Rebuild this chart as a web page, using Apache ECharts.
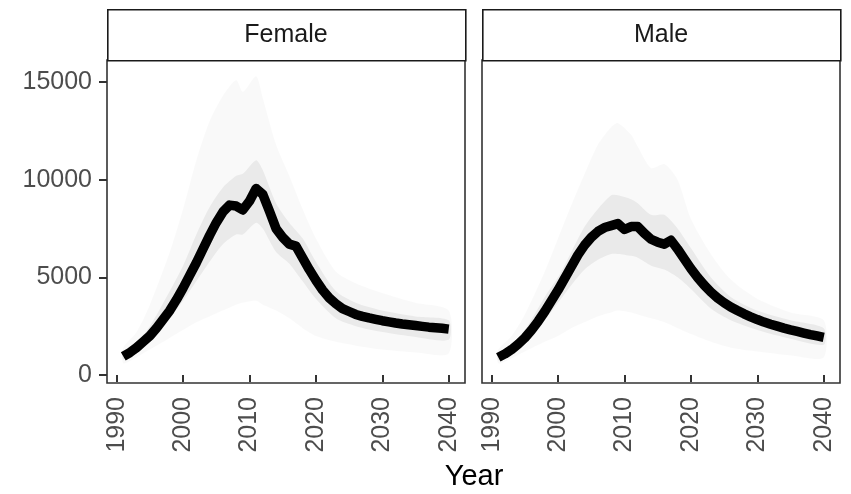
<!DOCTYPE html>
<html>
<head>
<meta charset="utf-8">
<script src="https://cdn.jsdelivr.net/npm/echarts@6/dist/echarts.min.js"></script>
<style>
html,body{margin:0;padding:0;background:#fff;}
#main{width:851px;height:494px;}
</style>
</head>
<body>
<div id="main"></div>
<script>
// years of the thick median line
var years = [];
for (var y = 1991; y <= 2040; y++) years.push(y);

// median line
var femaleMain = [950,1150,1400,1700,2000,2400,2850,3300,3850,4450,
                  5100,5750,6450,7150,7800,8350,8700,8650,8450,8900,
                  9550,9250,8400,7500,7050,6700,6600,6000,5400,4850,
                  4350,3950,3650,3400,3250,3100,3000,2920,2850,2780,
                  2720,2660,2610,2570,2530,2490,2450,2420,2390,2350];
var maleMain = [900,1080,1300,1580,1900,2300,2750,3250,3800,4350,
                4950,5550,6150,6650,7050,7350,7550,7650,7750,7450,
                7600,7600,7250,6950,6800,6700,6900,6450,5950,5450,
                5000,4600,4250,3950,3700,3480,3300,3130,2980,2840,
                2710,2600,2500,2400,2310,2230,2150,2070,2000,1930];

// the faint cloud of simulations: outer and inner envelopes, read by eye
var bandYears = [1991,1993,1995,1998,2000,2002,2004,2006,2008,2009,2011,2012,2014,2016,2018,2020,2023,2026,2030,2035,2040];
var femaleOuterMax = [1400,2200,3600,6300,8500,11000,13000,14300,15100,14500,15300,14200,11800,10200,8500,7000,5300,4700,4200,3700,3300];
var femaleOuterMin = [600,900,1300,1900,2300,2700,3000,3300,3600,3700,3800,3600,3300,2900,2400,2000,1700,1500,1300,1150,1100];
var femaleInnerMax = [1200,1700,2500,4300,5600,7200,8600,9600,10200,10300,11000,10500,8800,7800,7000,5800,4300,3700,3300,3000,2800];
var femaleInnerMin = [800,1100,1700,2900,3800,4800,5800,6700,7200,7200,7800,7500,6300,5700,4800,3900,2900,2500,2200,1950,1800];
var maleOuterMax = [1300,2000,3100,5300,7000,8700,10300,11800,12700,12900,12300,11700,10600,10800,10000,8000,6200,4900,3900,3200,2800];
var maleOuterMin = [600,850,1200,1700,2000,2400,2700,3000,3200,3300,3200,3100,2900,2700,2400,2100,1700,1400,1200,1000,900];
var maleInnerMax = [1100,1550,2300,4000,5000,6300,7600,8500,9200,9200,9000,8800,8200,8200,7500,6500,5000,4000,3300,2800,2400];
var maleInnerMin = [750,1050,1600,2800,3700,4600,5400,5900,6200,6200,6100,6000,5600,5400,5000,4400,3400,2800,2300,1850,1550];

var panels = ['Female', 'Male'];
var xTicks = [1990, 2000, 2010, 2020, 2030, 2040];
var yTicks = [0, 5000, 10000, 15000];

var FONT = '"Liberation Sans", Arial, sans-serif';

function pairs(xs, ys) {
    return xs.map(function (x, i) { return [x, ys[i]]; });
}

var gridLeft = [107, 482];
var gridW = 358;
var gridTop = 60;
var gridH = 323;

// a shaded envelope between lo and hi, drawn through the axis scales
function band(idx, lo, hi, color) {
    return {
        type: 'custom', xAxisIndex: idx, yAxisIndex: idx, silent: true,
        data: pairs(bandYears, hi),
        encode: { x: 0, y: 1 },
        clip: true,
        renderItem: function (params, api) {
            if (params.dataIndex !== 0) return null;
            var pts = [];
            for (var i = 0; i < bandYears.length; i++) pts.push(api.coord([bandYears[i], hi[i]]));
            for (var j = bandYears.length - 1; j >= 0; j--) pts.push(api.coord([bandYears[j], lo[j]]));
            return {
                type: 'polygon',
                shape: { points: pts, smooth: 0.25 },
                style: { fill: color, stroke: null }
            };
        }
    };
}

var series = [
    band(0, femaleOuterMin, femaleOuterMax, 'rgba(0,0,0,0.025)'),
    band(0, femaleInnerMin, femaleInnerMax, 'rgba(0,0,0,0.06)'),
    band(1, maleOuterMin, maleOuterMax, 'rgba(0,0,0,0.025)'),
    band(1, maleInnerMin, maleInnerMax, 'rgba(0,0,0,0.06)'),
    {
        type: 'line', xAxisIndex: 0, yAxisIndex: 0, data: pairs(years, femaleMain),
        symbol: 'none', silent: true, z: 5,
        lineStyle: { color: '#000', width: 9.5, cap: 'butt', join: 'round' }
    },
    {
        type: 'line', xAxisIndex: 1, yAxisIndex: 1, data: pairs(years, maleMain),
        symbol: 'none', silent: true, z: 5,
        lineStyle: { color: '#000', width: 9.5, cap: 'butt', join: 'round' }
    }
];

function plain(v) { return String(v); }

function xAxisFor(i) {
    return {
        type: 'value', gridIndex: i, min: 1988.55, max: 2042.45,
        splitLine: { show: false },
        axisLine: { show: false },
        axisTick: { show: true, length: 7, customValues: xTicks, lineStyle: { color: '#333', width: 2 } },
        axisLabel: { show: true, rotate: 90, margin: 14, customValues: xTicks, formatter: plain,
                     color: '#4d4d4d', fontSize: 25, fontFamily: FONT }
    };
}
function yAxisFor(i) {
    return {
        type: 'value', gridIndex: i, min: -410, max: 16130,
        splitLine: { show: false },
        axisLine: { show: false },
        axisTick: { show: i === 0, length: 8, customValues: yTicks, lineStyle: { color: '#333', width: 2 } },
        axisLabel: { show: i === 0, margin: 15, customValues: yTicks, formatter: plain,
                     color: '#4d4d4d', fontSize: 25, fontFamily: FONT }
    };
}

var graphics = [];
panels.forEach(function (p, i) {
    graphics.push({
        type: 'rect', left: gridLeft[i], top: 9, z: 10,
        shape: { width: gridW, height: 51 },
        style: { fill: '#fff', stroke: '#1a1a1a', lineWidth: 1.6 }
    });
    graphics.push({
        type: 'text', z: 11,
        x: gridLeft[i] + gridW / 2, y: 35,
        style: { text: p, fill: '#1a1a1a', font: '25px ' + FONT,
                 textAlign: 'center', textVerticalAlign: 'middle' }
    });
});
graphics.push({
    type: 'text', z: 11, x: 474, y: 477,
    style: { text: 'Year', fill: '#000', font: '29px ' + FONT,
             textAlign: 'center', textVerticalAlign: 'middle' }
});

var option = {
    backgroundColor: '#fff',
    animation: false,
    grid: panels.map(function (p, i) {
        return { left: gridLeft[i], top: gridTop, width: gridW, height: gridH,
                 show: true, borderColor: '#333', borderWidth: 1.6, backgroundColor: 'transparent' };
    }),
    xAxis: [xAxisFor(0), xAxisFor(1)],
    yAxis: [yAxisFor(0), yAxisFor(1)],
    graphic: graphics,
    series: series
};

var chart = echarts.init(document.getElementById('main'));
chart.setOption(option);
</script>
</body>
</html>
